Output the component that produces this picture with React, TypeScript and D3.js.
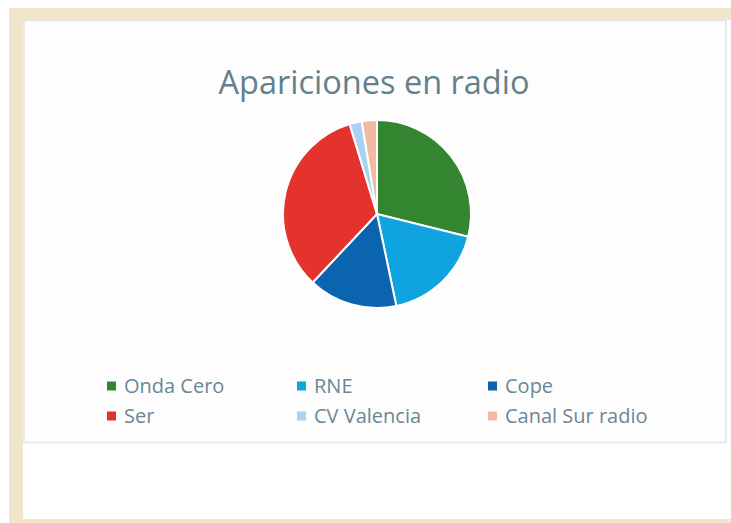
import React from "react";
import * as d3 from "d3";

const categories = ["Onda Cero", "RNE", "Cope", "Ser", "CV Valencia", "Canal Sur radio"];
const values = [28.9, 17.8, 15.3, 33.3, 2.1, 2.6];
const colors = ["#33862f", "#0fa3df", "#0a64b0", "#e4322c", "#a8d2ee", "#f4b9a2"];
const title = "Apariciones en radio";

export default function App() {
  const W = 731, H = 523;
  const cx = 377, cy = 214, r = 94;
  const pie = d3.pie<number>().sort(null).value((d) => d)(values);
  const arc = d3.arc<d3.PieArcDatum<number>>().innerRadius(0).outerRadius(r);
  const legendX = [107, 297, 488];
  const legendY = [386, 416];
  return (
    <svg width={W} height={H} style={{ position: "absolute", left: 0, top: 0 }}>
      <rect x={0} y={0} width={W} height={H} fill="#ffffff" />
      <rect x={9} y={8} width={W - 9} height={H - 8} fill="#f1e6cc" />
      <rect x={23} y={20} width={W - 23} height={499} fill="#ffffff" />
      <rect x={24} y={20.5} width={702} height={422} fill="#fefdfd" stroke="#e2e6ea" strokeWidth={1.5} />
      <text x={cx - 3} y={94} textAnchor="middle" fontFamily="Open Sans" fontSize={32.5} fill="#64808b">
        {title}
      </text>
      <g transform={`translate(${cx},${cy})`}>
        {pie.map((p, i) => (
          <path key={categories[i]} d={arc(p) || ""} fill={colors[i]} stroke="#ffffff" strokeWidth={2} />
        ))}
      </g>
      {categories.map((c, i) => {
        const col = i % 3, row = Math.floor(i / 3);
        return (
          <g key={c} transform={`translate(${legendX[col]},${legendY[row]})`}>
            <rect x={0} y={-4.5} width={9} height={9} fill={colors[i]} />
            <text x={17} y={7} fontFamily="Open Sans" fontSize={20} fill="#6a8794">
              {c}
            </text>
          </g>
        );
      })}
    </svg>
  );
}
